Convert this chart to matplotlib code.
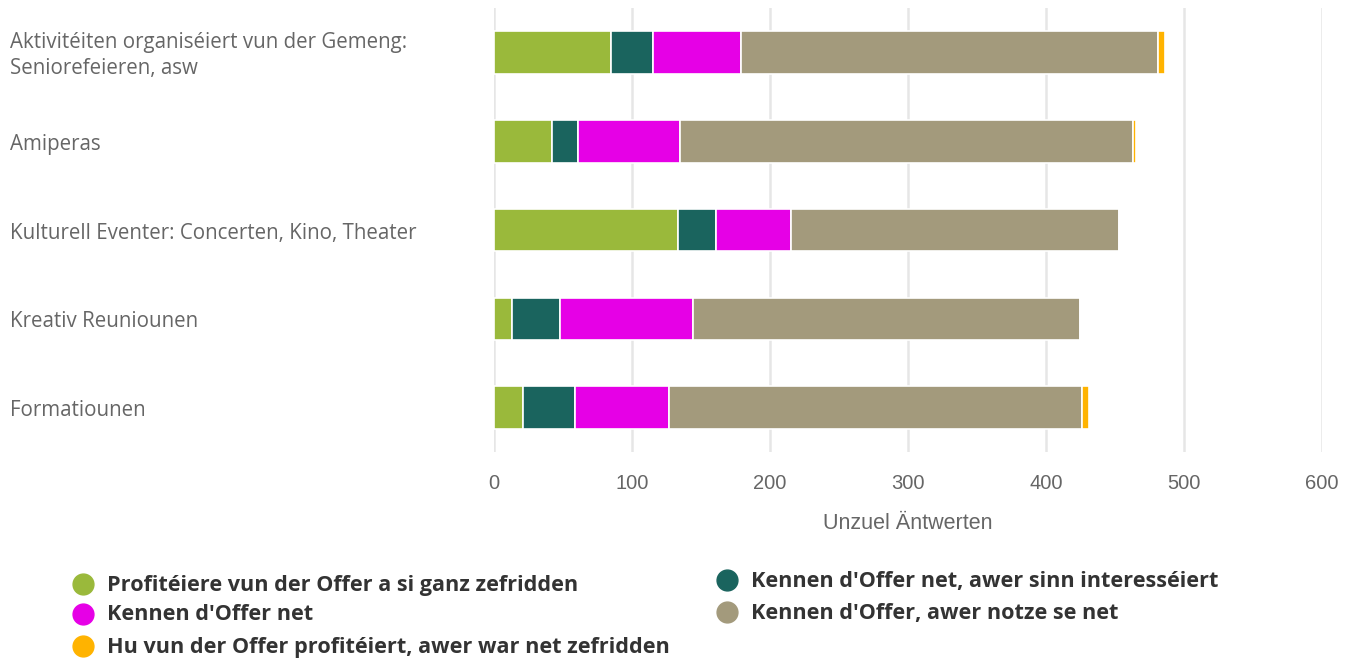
import matplotlib.pyplot as plt
import matplotlib.transforms as mtransforms
import numpy as np

categories = ["Aktivitéiten organiséiert vun der Gemeng:\nSeniorefeieren, asw",
              "Amiperas",
              "Kulturell Eventer: Concerten, Kino, Theater",
              "Kreativ Reuniounen",
              "Formatiounen"]

series_names = ["Profitéiere vun der Offer a si ganz zefridden",
                "Kennen d'Offer net, awer sinn interesséiert",
                "Kennen d'Offer net",
                "Kennen d'Offer, awer notze se net",
                "Hu vun der Offer profitéiert, awer war net zefridden"]
colors = ["#9ab93b", "#1a645e", "#e600e6", "#a39a7c", "#ffb300"]

zefridden = [85, 42, 133, 13, 21]
interesseiert = [30, 19, 28, 35, 38]
kennen_net = [64, 74, 54, 96, 68]
notzen_net = [302, 328, 238, 281, 299]
net_zefridden = [5, 2, 0, 0, 5]

values = [zefridden, interesseiert, kennen_net, notzen_net, net_zefridden]

fig = plt.figure(figsize=(13.52, 6.61), dpi=100)
ax = fig.add_axes([0.3654, 0.316, 0.6124, 0.672])

y = np.arange(len(categories))
left = np.zeros(len(categories))
for name, vals, c in zip(series_names, values, colors):
    vals = np.array(vals, dtype=float)
    ax.barh(y, vals, left=left, height=0.48, color=c, edgecolor="white",
            linewidth=1.2, label=name, zorder=3)
    left += vals

ax.set_xlim(0, 600)
ax.set_ylim(4.5, -0.5)
ax.set_xticks(range(0, 601, 100))
ax.set_yticks(y)
ax.set_yticklabels([])
ax.grid(axis="x", color="#e6e6e6", linewidth=1.8, zorder=0)
for s in ax.spines.values():
    s.set_visible(False)
ax.tick_params(axis="both", length=0)
ax.tick_params(axis="x", pad=16, labelsize=14.5, labelcolor="#666666")
for lbl in ax.get_xticklabels():
    lbl.set_fontfamily("Liberation Sans")
ax.set_xlabel("Unzuel Äntwerten", fontsize=15.5, color="#666666",
              fontfamily="Liberation Sans", labelpad=14)

# category labels, left aligned at the figure edge
trans = mtransforms.blended_transform_factory(fig.transFigure, ax.transData)
offset = mtransforms.ScaledTranslation(0, -3 / 100, fig.dpi_scale_trans)
for yi, cat in zip(y, categories):
    ax.text(10 / 1352, yi, cat, transform=trans + offset,
            ha="left", va="center", fontsize=14.8, color="#666666",
            fontfamily="Open Sans", linespacing=1.3)

# legend, placed by hand in two columns
legend_pos = [(83, 584), (727, 580), (83, 614), (727, 612), (83, 646)]
for (px, py), name, c in zip(legend_pos, series_names, colors):
    fx, fy = px / 1352, 1 - py / 661
    fig.lines.append(plt.Line2D([fx], [fy], marker="o", markersize=15, color=c,
                                linestyle="none", transform=fig.transFigure))
    fig.text(fx + 24 / 1352, fy - 1 / 661, name, ha="left", va="center", fontsize=15.6,
             fontweight="bold", color="#333333", fontfamily="Open Sans")

fig.savefig("out.png", dpi=100)
